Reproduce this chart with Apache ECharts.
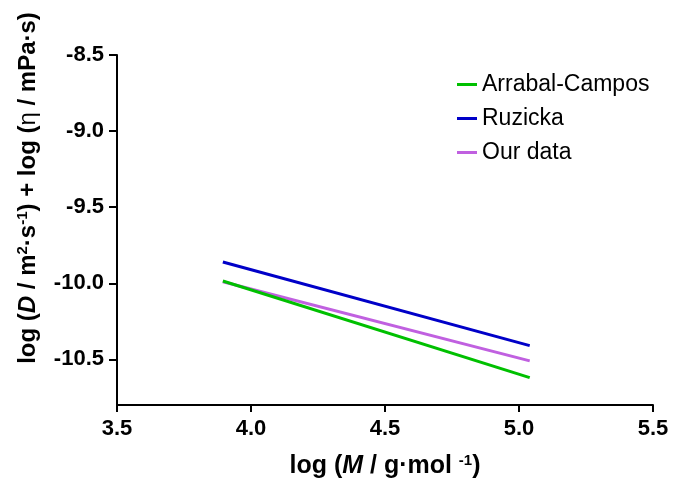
<!DOCTYPE html>
<html>
<head>
<meta charset="utf-8">
<script src="https://cdn.jsdelivr.net/npm/echarts@6/dist/echarts.min.js"></script>
<style>
  html, body { margin: 0; padding: 0; background: #fff; }
  #main { width: 676px; height: 479px; }
</style>
</head>
<body>
<div id="main"></div>
<script>
// fitted lines, start and end points
const seriesNames = ["Arrabal-Campos", "Ruzicka", "Our data"];
const xEnds = [3.895, 5.04];
const arrabalCampos = [-9.985, -10.62];
const ruzicka = [-9.86, -10.41];
const ourData = [-9.99, -10.51];
const xTicks = [3.5, 4.0, 4.5, 5.0, 5.5];
const yTicks = [-8.5, -9.0, -9.5, -10.0, -10.5];

const colors = ["#00c000", "#0000c8", "#c060e0"];
const font = "Liberation Sans, Arial, sans-serif";

const chartDom = document.getElementById("main");
const myChart = echarts.init(chartDom);

const pairs = (ys) => xEnds.map((x, i) => [x, ys[i]]);

const option = {
  animation: false,
  grid: { left: 117, right: 23, top: 55, bottom: 74, outerBoundsMode: "none", containLabel: false },
  legend: {
    orient: "vertical",
    left: 452,
    top: 68,
    itemWidth: 20,
    itemHeight: 3,
    itemGap: 11,
    icon: "rect",
    textStyle: { fontFamily: font, fontSize: 23, color: "#000" },
    data: seriesNames
  },
  xAxis: {
    type: "value",
    min: xTicks[0],
    max: xTicks[xTicks.length - 1],
    interval: 0.5,
    name: "{b|log (}{i|M}{b| / g·mol }{sup|-1}{b|)}",
    nameLocation: "middle",
    nameGap: 48,
    nameTextStyle: {
      rich: {
        b: { fontFamily: font, fontSize: 25, fontWeight: "bold", color: "#000" },
        i: { fontFamily: font, fontSize: 25, fontWeight: "bold", fontStyle: "italic", color: "#000" },
        sup: { fontFamily: font, fontSize: 15, fontWeight: "bold", color: "#000", verticalAlign: "top", padding: [0, 0, 11, 0] }
      }
    },
    splitLine: { show: false },
    axisLine: { onZero: false, lineStyle: { color: "#000", width: 2 } },
    axisTick: { length: 7, lineStyle: { color: "#000", width: 2 } },
    axisLabel: {
      fontFamily: font, fontSize: 22, fontWeight: "bold", color: "#000", margin: 13,
      formatter: (v) => v.toFixed(1)
    }
  },
  yAxis: {
    type: "value",
    min: -10.8,
    max: yTicks[0],
    name: "{b|log (}{i|D}{b| / m}{sup|2}{b|·s}{sup|-1}{b|) + log (}{n|η}{b| / mPa·s)}",
    nameLocation: "middle",
    nameRotate: 90,
    nameGap: 76,
    nameTextStyle: {
      padding: [0, 0, 0, 84],
      rich: {
        b: { fontFamily: font, fontSize: 24, fontWeight: "bold", color: "#000" },
        i: { fontFamily: font, fontSize: 24, fontWeight: "bold", fontStyle: "italic", color: "#000" },
        n: { fontFamily: font, fontSize: 24, color: "#000" },
        sup: { fontFamily: font, fontSize: 15, fontWeight: "bold", color: "#000", verticalAlign: "top", padding: [0, 0, 11, 0] }
      }
    },
    splitLine: { show: false },
    axisLine: { onZero: false, lineStyle: { color: "#000", width: 2 } },
    axisTick: { length: 8, customValues: yTicks, lineStyle: { color: "#000", width: 2 } },
    axisLabel: {
      fontFamily: font, fontSize: 22, fontWeight: "bold", color: "#000", margin: 13,
      customValues: yTicks,
      formatter: (v) => v.toFixed(1)
    }
  },
  series: [
    {
      name: seriesNames[0], type: "line", data: pairs(arrabalCampos), z: 4,
      showSymbol: false, lineStyle: { color: colors[0], width: 3 }, itemStyle: { color: colors[0] }
    },
    {
      name: seriesNames[1], type: "line", data: pairs(ruzicka), z: 3,
      showSymbol: false, lineStyle: { color: colors[1], width: 3 }, itemStyle: { color: colors[1] }
    },
    {
      name: seriesNames[2], type: "line", data: pairs(ourData), z: 2,
      showSymbol: false, lineStyle: { color: colors[2], width: 3 }, itemStyle: { color: colors[2] }
    }
  ]
};

option && myChart.setOption(option);
</script>
</body>
</html>
